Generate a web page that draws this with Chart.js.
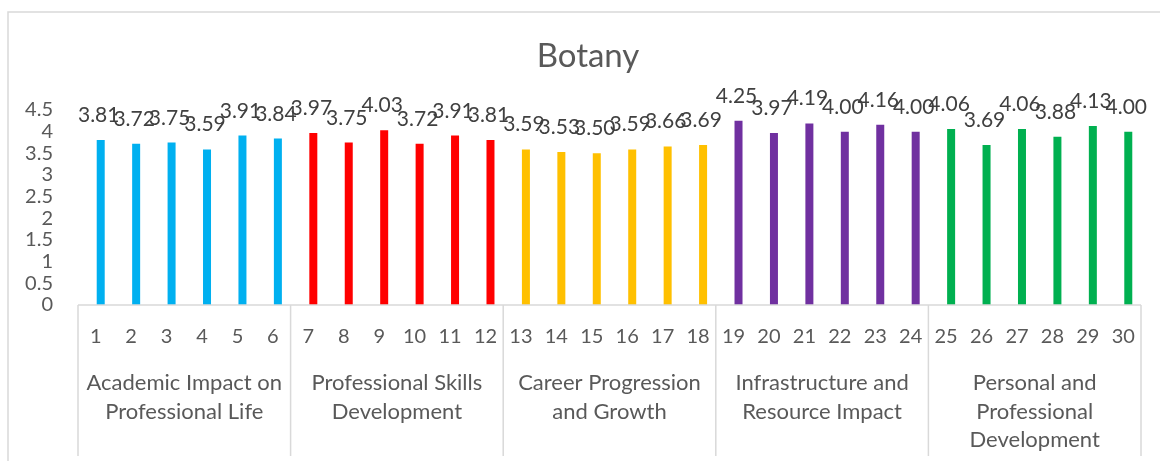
<!DOCTYPE html>
<html>
<head>
<meta charset="utf-8">
<script src="https://cdn.jsdelivr.net/npm/chart.js@4"></script>
<style>
  html, body { margin: 0; padding: 0; background: #fff; }
  #wrap { width: 1160px; height: 461px; position: relative; }
</style>
</head>
<body>
<div id="wrap"><canvas id="botanyChart"></canvas></div>
<script>
// item numbers on the x axis
const itemLabels = ["1", "2", "3", "4", "5", "6", "7", "8", "9", "10",
  "11", "12", "13", "14", "15", "16", "17", "18", "19", "20",
  "21", "22", "23", "24", "25", "26", "27", "28", "29", "30"];

// mean scores per item
const scores = [3.81, 3.72, 3.75, 3.59, 3.91, 3.84,
  3.97, 3.75, 4.03, 3.72, 3.91, 3.81,
  3.59, 3.53, 3.50, 3.59, 3.66, 3.69,
  4.25, 3.97, 4.19, 4.00, 4.16, 4.00,
  4.06, 3.69, 4.06, 3.88, 4.13, 4.00];

// the five groups (second level of the category axis)
const groupNames = [
  ["Academic Impact on", "Professional Life"],
  ["Professional Skills", "Development"],
  ["Career Progression", "and Growth"],
  ["Infrastructure and", "Resource Impact"],
  ["Personal and", "Professional", "Development"],
];
const groupSizes = [6, 6, 6, 6, 6];
const groupColors = ["#00B0F0", "#FF0000", "#FFC000", "#7030A0", "#00B050"];

// which group every item belongs to
const itemGroup = [];
groupSizes.forEach((n, g) => { for (let k = 0; k < n; k++) itemGroup.push(g); });

const FONT = "Lato";
const GRAY = "#d9d9d9";

const decor = {
  id: "decor",
  afterDraw(chart) {
    const { ctx, scales } = chart;
    const x = scales.x, y = scales.y;
    ctx.save();

    // outer frame
    ctx.strokeStyle = GRAY;
    ctx.lineWidth = 1.5;
    ctx.beginPath();
    ctx.moveTo(8, 461);
    ctx.lineTo(8, 12);
    ctx.lineTo(1160, 12);
    ctx.stroke();

    // title
    ctx.fillStyle = "#595959";
    ctx.font = "33px " + FONT;
    ctx.textAlign = "center";
    ctx.textBaseline = "alphabetic";
    ctx.fillText("Botany", 588, 67);

    // category axis line and group separators
    const half = (x.getPixelForValue(1) - x.getPixelForValue(0)) / 2;
    const base = y.getPixelForValue(0);
    ctx.strokeStyle = GRAY;
    ctx.lineWidth = 1.5;
    ctx.beginPath();
    ctx.moveTo(x.left, base);
    ctx.lineTo(x.right, base);
    let idx = 0;
    const edges = [x.getPixelForValue(0) - half];
    groupSizes.forEach(n => {
      idx += n;
      edges.push(x.getPixelForValue(idx - 1) + half);
    });
    edges.forEach(e => {
      ctx.moveTo(e, base);
      ctx.lineTo(e, 456);
    });
    ctx.stroke();

    // group labels
    ctx.fillStyle = "#595959";
    ctx.font = "22px " + FONT;
    ctx.textBaseline = "middle";
    groupNames.forEach((lines, g) => {
      const cx = (edges[g] + edges[g + 1]) / 2;
      lines.forEach((t, l) => ctx.fillText(t, cx, 383 + l * 28.5));
    });

    // value labels
    const meta = chart.getDatasetMeta(1);
    ctx.fillStyle = "#404040";
    ctx.font = "21px " + FONT;
    ctx.textBaseline = "alphabetic";
    meta.data.forEach((bar, i) => {
      ctx.fillText(scores[i].toFixed(2), bar.x - 2, bar.y - 18);
    });

    ctx.restore();
  }
};

new Chart(document.getElementById("botanyChart"), {
  type: "bar",
  data: {
    labels: itemLabels,
    datasets: [
      {
        label: "spacer",
        data: itemLabels.map(() => null),
        backgroundColor: "rgba(0,0,0,0)",
      },
      {
        label: "Botany",
        data: scores,
        backgroundColor: itemGroup.map(g => groupColors[g]),
        borderWidth: 0,
      },
    ],
  },
  options: {
    responsive: true,
    maintainAspectRatio: false,
    animation: false,
    categoryPercentage: 0.5645,
    barPercentage: 0.8,
    layout: { padding: { top: 110, left: 8, right: 19, bottom: 0 } },
    plugins: {
      legend: { display: false },
      title: { display: false },
      tooltip: { enabled: false },
    },
    scales: {
      x: {
        grid: { display: false, drawTicks: false },
        border: { display: false },
        ticks: {
          color: "#595959",
          font: { family: FONT, size: 20 },
          padding: 20,
          maxRotation: 0,
          autoSkip: false,
        },
        afterFit(scale) { scale.height = 156; },
      },
      y: {
        min: 0,
        max: 4.5,
        grid: { display: false, drawTicks: false },
        border: { display: false },
        ticks: {
          stepSize: 0.5,
          autoSkip: false,
          color: "#595959",
          font: { family: FONT, size: 20, lineHeight: 1 },
          padding: 25,
          callback: v => String(v),
        },
        afterFit(scale) { scale.width = 70; },
      },
    },
  },
  plugins: [decor],
});
</script>
</body>
</html>
